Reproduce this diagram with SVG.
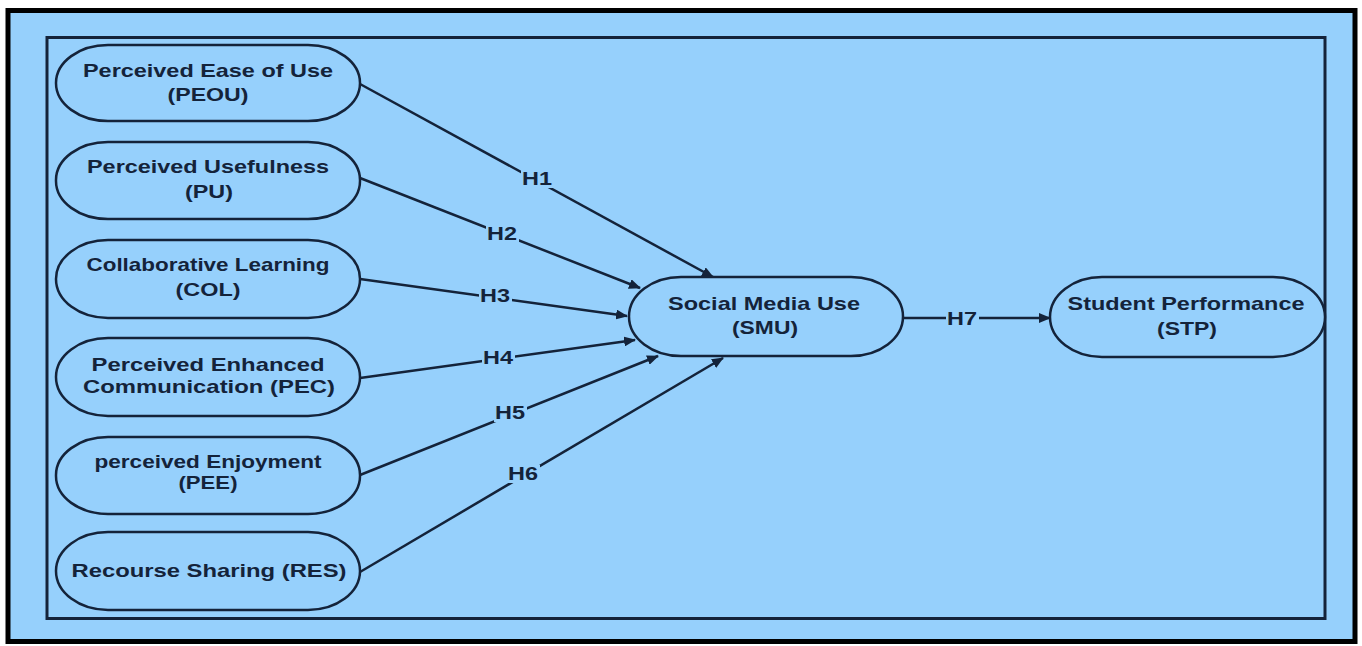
<svg xmlns="http://www.w3.org/2000/svg" width="1362" height="646" viewBox="0 0 1362 646">
<style>
.node{fill:#96D0FC;stroke:#14233a;stroke-width:2.5}
.t{font-family:"Liberation Sans",Arial,sans-serif;font-weight:bold;font-size:18.5px;fill:#14233a;text-anchor:middle}
.e{stroke:#14233a;stroke-width:2.5;fill:none;marker-end:url(#ah)}
.lb{fill:#96D0FC}
</style>
<defs>
<marker id="ah" viewBox="0 0 12 10" refX="11" refY="5" markerWidth="12" markerHeight="10" markerUnits="userSpaceOnUse" orient="auto">
<path d="M0,0 L12,5 L0,10 Z" fill="#14233a"/>
</marker>
</defs>
<rect width="1362" height="646" fill="#ffffff"/>
<rect x="8" y="10.5" width="1347" height="631" fill="#96D0FC" stroke="#000000" stroke-width="5"/>
<rect x="47" y="37.5" width="1278" height="581" fill="none" stroke="#14233a" stroke-width="3"/>

<g id="connectors">
<line class="e" x1="360" y1="84" x2="713" y2="277"/>
<line class="e" x1="360" y1="178" x2="640" y2="288"/>
<line class="e" x1="360" y1="279" x2="627" y2="316"/>
<line class="e" x1="360" y1="378" x2="635" y2="340"/>
<line class="e" x1="360" y1="475" x2="658" y2="356"/>
<line class="e" x1="360" y1="572" x2="723" y2="358"/>
<line class="e" x1="903" y1="318" x2="1050" y2="318"/>
<rect class="lb" x="521" y="170" width="33" height="18"/>
<rect class="lb" x="486" y="225" width="33" height="18"/>
<rect class="lb" x="479" y="287" width="33" height="18"/>
<rect class="lb" x="482" y="349" width="33" height="18"/>
<rect class="lb" x="494" y="404" width="33" height="18"/>
<rect class="lb" x="507" y="465" width="33" height="18"/>
<rect class="lb" x="946" y="310" width="33" height="18"/>
<text class="t" x="537" y="185" textLength="30" lengthAdjust="spacingAndGlyphs">H1</text>
<text class="t" x="502" y="240" textLength="30" lengthAdjust="spacingAndGlyphs">H2</text>
<text class="t" x="495" y="302" textLength="30" lengthAdjust="spacingAndGlyphs">H3</text>
<text class="t" x="498" y="364" textLength="30" lengthAdjust="spacingAndGlyphs">H4</text>
<text class="t" x="510" y="419" textLength="30" lengthAdjust="spacingAndGlyphs">H5</text>
<text class="t" x="523" y="480" textLength="30" lengthAdjust="spacingAndGlyphs">H6</text>
<text class="t" x="962" y="325" textLength="30" lengthAdjust="spacingAndGlyphs">H7</text>
</g>

<g id="PEOU">
<rect class="node" x="56" y="45" width="304" height="76" rx="52" ry="38"/>
<text class="t" x="208" y="77" textLength="250" lengthAdjust="spacingAndGlyphs">Perceived Ease of Use</text>
<text class="t" x="208" y="101" textLength="81" lengthAdjust="spacingAndGlyphs">(PEOU)</text>
</g>
<g id="PU">
<rect class="node" x="56" y="142" width="304" height="77" rx="52" ry="38"/>
<text class="t" x="208" y="173" textLength="242" lengthAdjust="spacingAndGlyphs">Perceived Usefulness</text>
<text class="t" x="209" y="198" textLength="48" lengthAdjust="spacingAndGlyphs">(PU)</text>
</g>
<g id="COL">
<rect class="node" x="56" y="240" width="304" height="78" rx="52" ry="39"/>
<text class="t" x="208" y="271" textLength="243" lengthAdjust="spacingAndGlyphs">Collaborative Learning</text>
<text class="t" x="208" y="296" textLength="65" lengthAdjust="spacingAndGlyphs">(COL)</text>
</g>
<g id="PEC">
<rect class="node" x="56" y="338" width="304" height="78" rx="52" ry="39"/>
<text class="t" x="208" y="371" textLength="233" lengthAdjust="spacingAndGlyphs">Perceived Enhanced</text>
<text class="t" x="209" y="393" textLength="252" lengthAdjust="spacingAndGlyphs">Communication (PEC)</text>
</g>
<g id="PEE">
<rect class="node" x="56" y="437" width="304" height="77" rx="52" ry="38"/>
<text class="t" x="208" y="468" textLength="227" lengthAdjust="spacingAndGlyphs">perceived Enjoyment</text>
<text class="t" x="208" y="489" textLength="59" lengthAdjust="spacingAndGlyphs">(PEE)</text>
</g>
<g id="RES">
<rect class="node" x="56" y="532" width="304" height="78" rx="52" ry="39"/>
<text class="t" x="209" y="577" textLength="275" lengthAdjust="spacingAndGlyphs">Recourse Sharing (RES)</text>
</g>
<g id="SMU">
<rect class="node" x="629" y="277" width="274" height="79" rx="52" ry="39.5"/>
<text class="t" x="764" y="310" textLength="192" lengthAdjust="spacingAndGlyphs">Social Media Use</text>
<text class="t" x="765" y="334" textLength="66" lengthAdjust="spacingAndGlyphs">(SMU)</text>
</g>
<g id="STP">
<rect class="node" x="1050" y="277" width="275" height="80" rx="52" ry="40"/>
<text class="t" x="1186" y="310" textLength="237" lengthAdjust="spacingAndGlyphs">Student Performance</text>
<text class="t" x="1187" y="335" textLength="60" lengthAdjust="spacingAndGlyphs">(STP)</text>
</g>
</svg>
